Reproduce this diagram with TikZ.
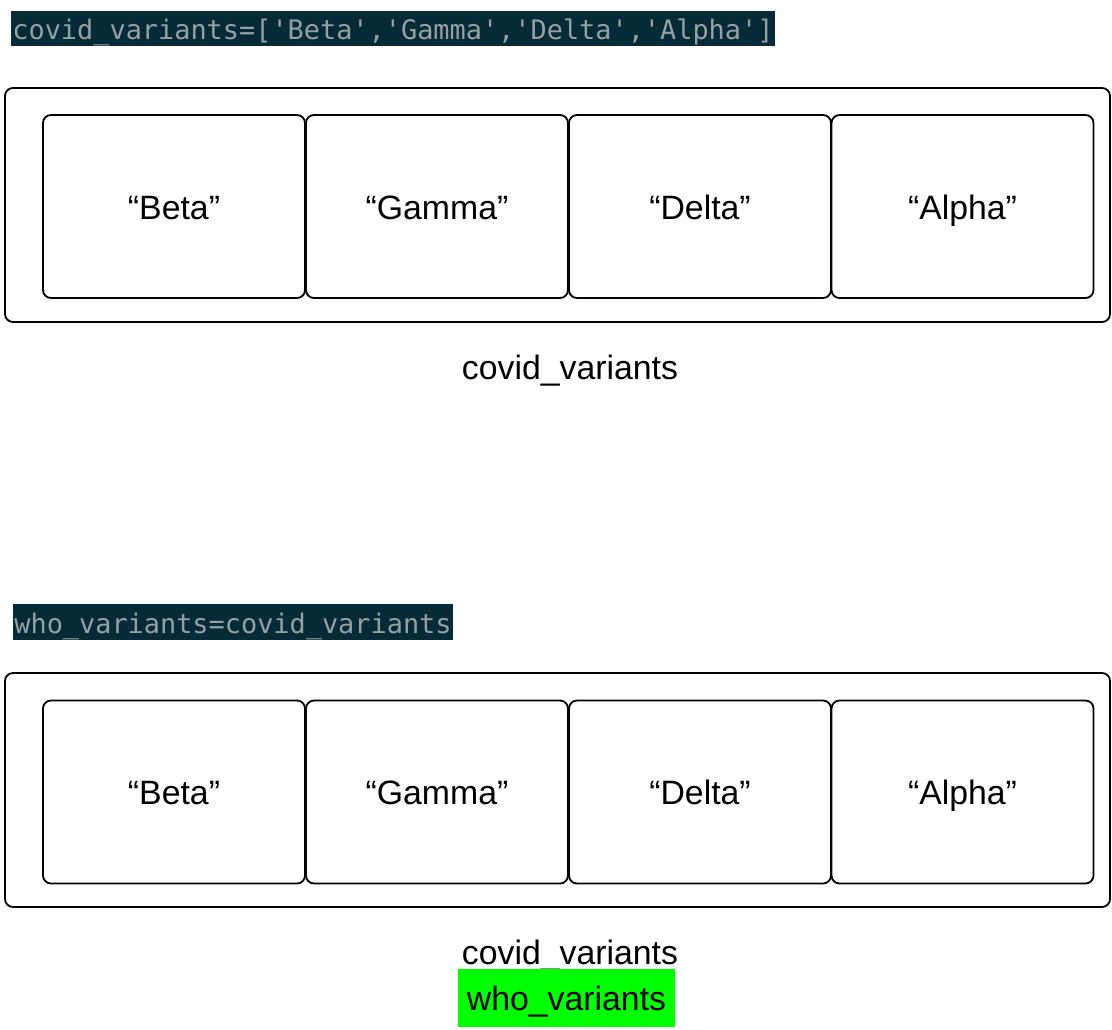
\documentclass[tikz,border=0pt]{standalone}
\usepackage{fontspec}
\setmainfont{Liberation Sans}
\newfontfamily\codefont{DejaVu Sans Mono}
\definecolor{codebg}{HTML}{052B36}
\definecolor{codefg}{HTML}{93A1A1}
\definecolor{hlgreen}{HTML}{00FF00}
\begin{document}
\begin{tikzpicture}[x=0.5pt,y=-0.5pt,
  codebar/.style={fill=codebg,text=codefg,inner sep=0pt,text height=13.5pt,text depth=2.5pt,font=\codefont\fontsize{13.45}{16}\selectfont},
  outerbox/.style={draw,line width=0.9pt,rounded corners=4pt,minimum width=552.5pt,minimum height=117pt,inner sep=0pt},
  cell/.style={draw,line width=0.9pt,rounded corners=4pt,minimum width=131pt,minimum height=91.5pt,inner sep=0pt,text height=16pt,text depth=3.4pt,font=\fontsize{16.9}{20}\selectfont},
  lbl/.style={inner sep=0pt,text height=15.5pt,text depth=3.4pt,font=\fontsize{16.9}{20}\selectfont},
  greenlbl/.style={fill=hlgreen,inner sep=0pt,minimum width=108.5pt,minimum height=29pt,text height=16pt,text depth=3.4pt,font=\fontsize{16.9}{20}\selectfont}]
\useasboundingbox (0,0) rectangle (1112,1029);
% top part
\node[codebar,minimum width=382pt,minimum height=17.5pt] (code1) at (393,28.5) {covid\_variants=['Beta','Gamma','Delta','Alpha']};
\node[outerbox] (box1) at (557.5,205) {};
\node[cell] (b1) at (174,206.5) {“Beta”};
\node[cell] (g1) at (437,206.5) {“Gamma”};
\node[cell] (d1) at (700,206.5) {“Delta”};
\node[cell] (a1) at (962.5,206.5) {“Alpha”};
\node[lbl] (l1) at (570,367) {covid\_variants};
% bottom part
\node[codebar,minimum width=220pt,minimum height=18pt] (code2) at (233,622) {who\_variants=covid\_variants};
\node[outerbox] (box2) at (557.5,790) {};
\node[cell] (b2) at (174,792) {“Beta”};
\node[cell] (g2) at (437,792) {“Gamma”};
\node[cell] (d2) at (700,792) {“Delta”};
\node[cell] (a2) at (962.5,792) {“Alpha”};
\node[lbl] (l2) at (570,952) {covid\_variants};
\node[greenlbl] (w2) at (566.5,998) {who\_variants};
\end{tikzpicture}
\end{document}
